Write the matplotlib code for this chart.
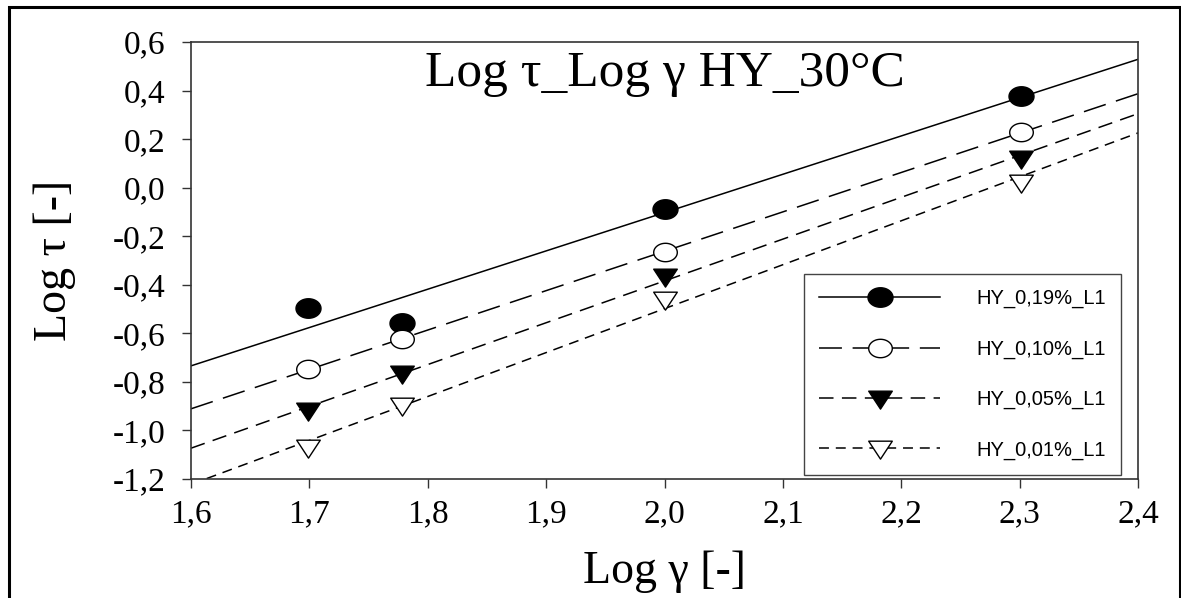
import numpy as np
import matplotlib
matplotlib.use("Agg")
import matplotlib.pyplot as plt
from matplotlib.path import Path
from matplotlib.patches import Rectangle
from matplotlib.ticker import FuncFormatter

# Shear-rate axis (log of 50, 60, 100, 200 1/s)
log_gamma = [1.699, 1.778, 2.000, 2.301]

# Log shear stress for each HY concentration
hy_019 = [-0.494, -0.559, -0.086, 0.378]
hy_010 = [-0.747, -0.623, -0.267, 0.229]
hy_005 = [-0.915, -0.765, -0.362, 0.123]
hy_001 = [-1.068, -0.895, -0.457, 0.025]

labels = ["HY_0,19%_L1", "HY_0,10%_L1", "HY_0,05%_L1", "HY_0,01%_L1"]

x_ticks = [1.6, 1.7, 1.8, 1.9, 2.0, 2.1, 2.2, 2.3, 2.4]
y_ticks = [-1.2, -1.0, -0.8, -0.6, -0.4, -0.2, 0.0, 0.2, 0.4, 0.6]

SERIF = ["Liberation Serif", "DejaVu Serif"]
SANS = ["Liberation Sans", "DejaVu Sans"]

# Slightly flattened marker shapes
t = np.linspace(0, 2 * np.pi, 60)
ellipse = Path(np.column_stack([np.cos(t), 0.78 * np.sin(t)]), closed=True)
tri_down = Path([(-1.0, 0.62), (1.0, 0.62), (0.0, -0.9), (-1.0, 0.62)], closed=True)

styles = [
    dict(ls="-", marker=ellipse, mfc="black", ms=18),
    dict(ls=(0, (15, 7)), marker=ellipse, mfc="white", ms=17),
    dict(ls=(0, (9.5, 5.5)), marker=tri_down, mfc="black", ms=17),
    dict(ls=(0, (6.5, 4.5)), marker=tri_down, mfc="white", ms=17),
]

fig = plt.figure(figsize=(11.81, 5.98), dpi=100)
ax = fig.add_axes([191 / 1181, 1 - 479 / 598, (1138 - 191) / 1181, (479 - 42) / 598])

xs = np.array(log_gamma)
xline = np.array([1.6, 2.4])
handles = []
for vals, st, lab in zip([hy_019, hy_010, hy_005, hy_001], styles, labels):
    ys = np.array(vals)
    k, b = np.polyfit(xs, ys, 1)
    ax.plot(xline, k * xline + b, color="black", lw=1.1, ls=st["ls"], zorder=2)
    ax.plot(xs, ys, ls="none", marker=st["marker"], ms=st["ms"],
            mfc=st["mfc"], mec="black", mew=1.0, zorder=3)
    h, = ax.plot([], [], color="black", lw=1.1, ls=st["ls"], marker=st["marker"],
                 ms=st["ms"], mfc=st["mfc"], mec="black", mew=1.0)
    handles.append(h)

ax.set_xlim(1.6, 2.4)
ax.set_ylim(-1.2, 0.6)
ax.set_xticks(x_ticks)
ax.set_yticks(y_ticks)
comma = FuncFormatter(lambda v, p: f"{v:.1f}".replace(".", ",").replace("-0,0", "0,0"))
ax.xaxis.set_major_formatter(comma)
ax.yaxis.set_major_formatter(comma)
ax.tick_params(axis="both", direction="out", length=6.5, width=1.0, color="#333333",
               labelsize=24, top=False, right=False)
ax.tick_params(axis="y", pad=12)
ax.tick_params(axis="x", pad=8)
for lbl in ax.get_xticklabels() + ax.get_yticklabels():
    lbl.set_family(SERIF)
for sp in ax.spines.values():
    sp.set_color("#333333")
    sp.set_linewidth(1.2)

ax.set_xlabel("Log γ [-]", family=SERIF, fontsize=33, labelpad=15)
ax.set_ylabel("Log τ [-]", family=SERIF, fontsize=33, labelpad=26)
ax.text(0.5, 0.899, "Log τ_Log γ HY_30°C", transform=ax.transAxes, ha="center",
        va="baseline", family=SERIF, fontsize=37)

leg = ax.legend(handles, labels, loc="upper left",
                bbox_to_anchor=((804 - 191) / 947, (479 - 274) / 437),
                prop=dict(family=SANS, size=14.5), handlelength=6.0, handletextpad=1.8,
                labelspacing=1.55, borderpad=0.75, borderaxespad=0, frameon=True,
                fancybox=False, edgecolor="#444444", framealpha=1)
leg.get_frame().set_linewidth(1.0)

# Outer frame around the figure
fig.add_artist(Rectangle((8.5 / 1181, -0.05), (1180 - 8.5) / 1181, 1.05 - 7.5 / 598,
                         transform=fig.transFigure, fill=False, lw=2.2,
                         edgecolor="black"))

fig.savefig("out.png", dpi=100, facecolor="white")
